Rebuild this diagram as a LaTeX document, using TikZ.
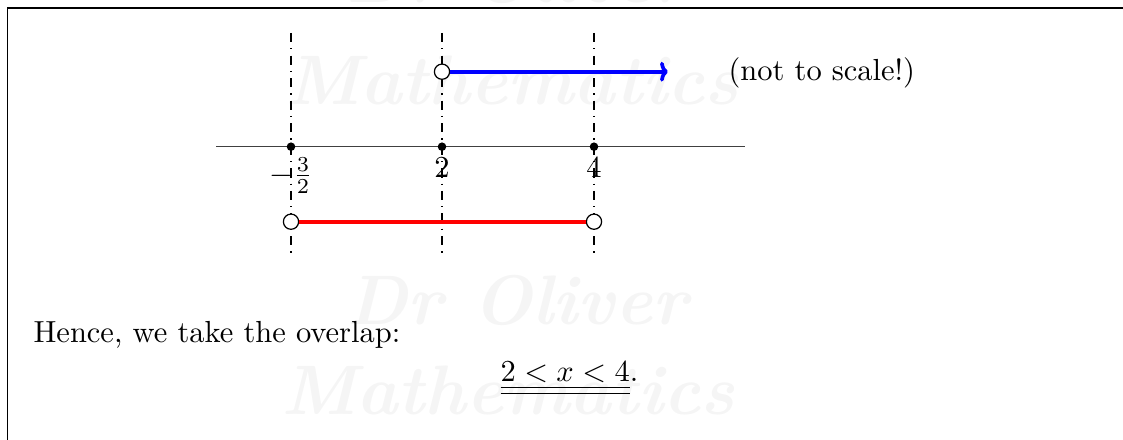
\documentclass[tikz,border=0pt]{standalone}
\usetikzlibrary{arrows.meta}
\begin{document}
\begin{tikzpicture}[x=0.328pt,y=-0.328pt,
  frame/.style={line width=0.6pt},
  axisline/.style={line width=0.4pt, black!75},
  guide/.style={dash dot, line width=0.35pt},
  soliddot/.style={circle, fill=black, inner sep=0pt, minimum size=2.8pt},
  opendot/.style={circle, draw=black, fill=white, line width=0.4pt, inner sep=0pt, minimum size=5pt},
  ray/.style={line width=1.2pt, blue, -{To[length=2.6pt,width=6.5pt]}},
  seg/.style={line width=1.2pt, red},
  wm/.style={black!4, font=\bfseries\itshape, scale=2.3},
  plain/.style={inner sep=0pt, anchor=base west}]
\useasboundingbox (0,0) rectangle (1123,440);
% watermarks
\node[wm] (w0) at (517,-22) {Dr Oliver};
\node[wm] (w1) at (512,80) {Mathematics};
\node[wm] (w2) at (517,300) {Dr Oliver};
\node[wm] (w3) at (508,390) {Mathematics};
% frame
\coordinate (fbl) at (7.5,440);
\coordinate (ftl) at (7.5,8);
\coordinate (ftr) at (1123,8);
\draw[frame] (fbl) -- (ftl) -- (ftr);
% guides
\foreach \n/\x in {a/291,b/442,c/594}{
  \coordinate (\n top) at (\x,33);
  \coordinate (\n bot) at (\x,258);
  \draw[guide] (\n top) -- (\n bot);
}
% axis
\coordinate (axl) at (216,146.7);
\coordinate (axr) at (745,146.7);
\draw[axisline] (axl) -- (axr);
\node[soliddot] (pa) at (291,146.7) {};
\node[soliddot] (pb) at (442,146.7) {};
\node[soliddot] (pc) at (594,146.7) {};
\node[below] (la) at (pa.center) {$-\frac{3}{2}$};
\node[below] (lb) at (pb.center) {$2$};
\node[below] (lc) at (pc.center) {$4$};
% blue ray
\node[opendot] (ob) at (442,71.7) {};
\coordinate (rayend) at (668,71.7);
\draw[ray] (ob) -- (rayend);
% red segment
\node[opendot] (ra) at (291,221.7) {};
\node[opendot] (rc) at (594,221.7) {};
\draw[seg] (ra) -- (rc);
% texts
\node[plain] (nts) at (728,80.7) {(not to scale!)};
\node[plain] (hence) at (33,343) {Hence, we take the overlap:};
\node[plain] (ans) at (500,381.7) {$\underline{\underline{2<x<4}}$.};
\end{tikzpicture}
\end{document}
